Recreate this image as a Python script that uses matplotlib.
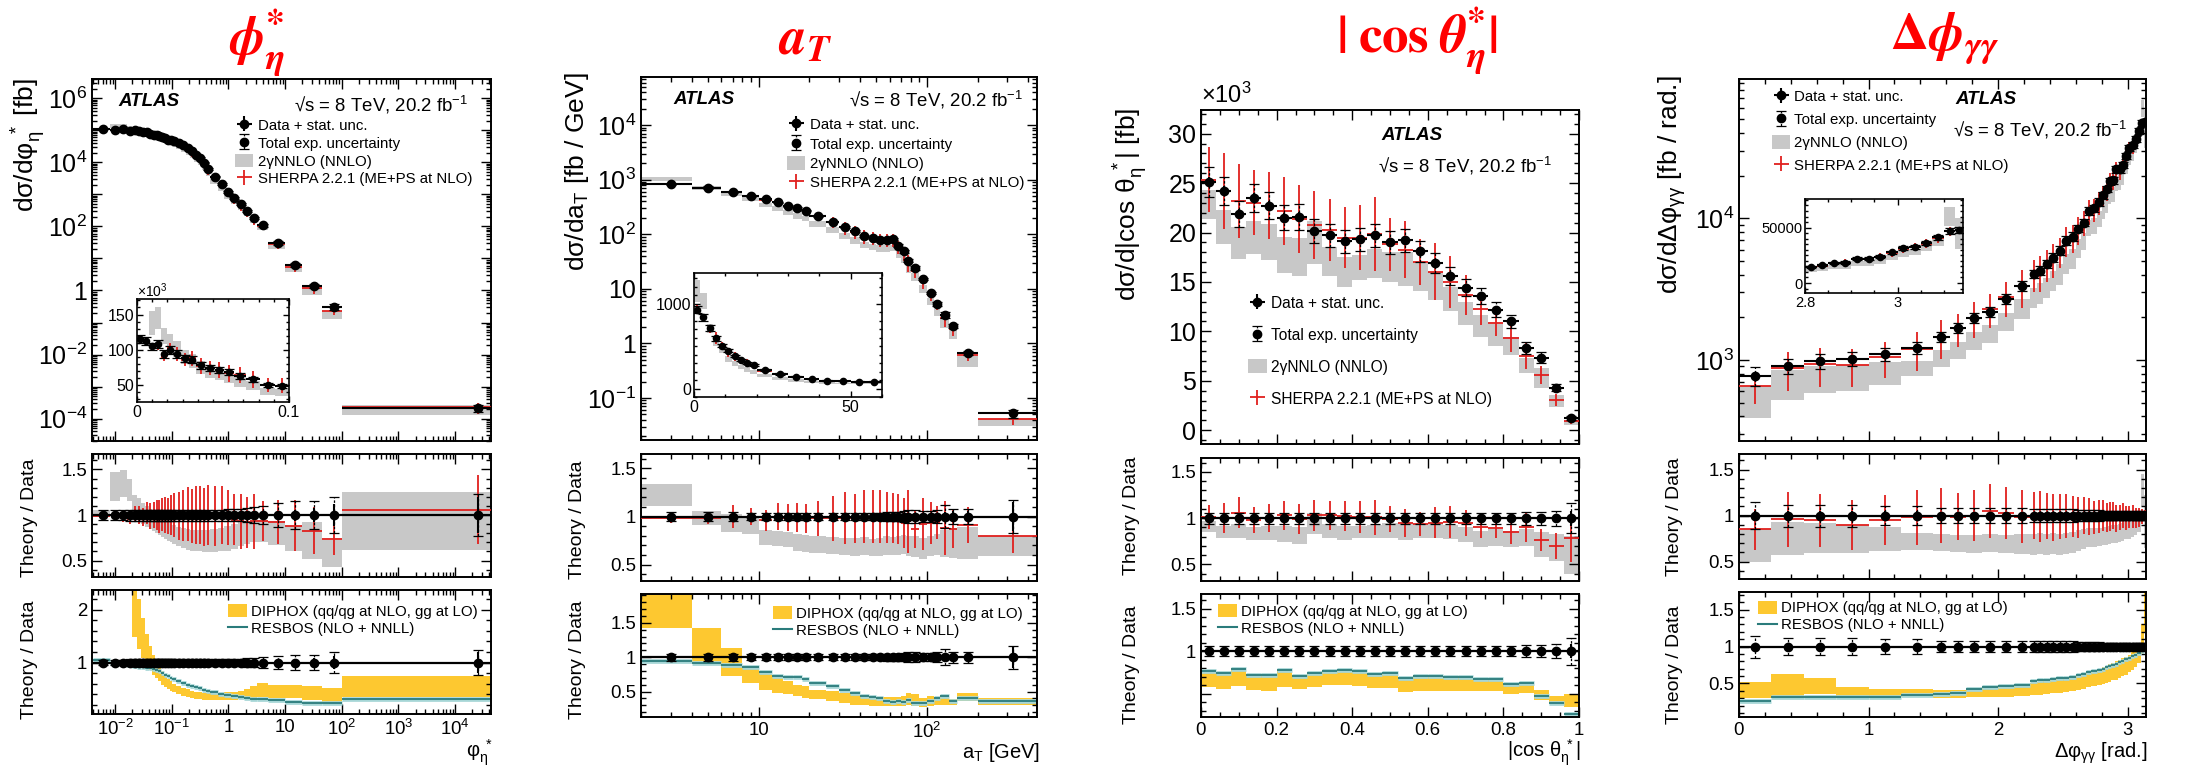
import numpy as np
import matplotlib
matplotlib.use('Agg')
import matplotlib.pyplot as plt
from matplotlib.patches import Patch
from matplotlib.lines import Line2D
from matplotlib.ticker import (FixedLocator, MultipleLocator, LogLocator,
                               FuncFormatter, NullFormatter)
from matplotlib.font_manager import FontProperties
from matplotlib.mathtext import MathTextParser

# ======================= DATA =======================
# ---- phi*_eta ----
PHI_EDGES = [0, 0.004, 0.008, 0.012, 0.016, 0.020, 0.024, 0.029, 0.034, 0.039, 0.045,
             0.051, 0.057, 0.064, 0.072, 0.081, 0.091, 0.1, 0.12, 0.145, 0.175, 0.21,
             0.25, 0.29, 0.34, 0.40, 0.48, 0.66, 0.85, 1.1, 1.45, 1.85, 2.4, 3.2, 5.0,
             10, 20, 45, 100, 50000]
PHI_DATA = [115e3, 112e3, 105e3, 108e3, 94e3, 100e3, 94e3, 88e3, 86e3, 78e3, 74e3, 71e3,
            68e3, 63e3, 58e3, 50e3, 49e3, 45e3, 40e3, 34e3, 28e3, 22e3, 17.5e3, 14e3,
            9.8e3, 6.2e3, 3.6e3, 2.15e3, 1.2e3, 770, 490, 310, 182, 108, 30, 6.3, 1.4,
            0.31, 2.1e-4]
PHI_STAT = [0.02, 0.02, 0.02, 0.02, 0.025, 0.025, 0.025, 0.025, 0.025, 0.025,
            0.025, 0.025, 0.025, 0.025, 0.025, 0.025, 0.025, 0.02, 0.02, 0.02,
            0.02, 0.02, 0.02, 0.02, 0.02, 0.02, 0.02, 0.02, 0.025, 0.025,
            0.025, 0.03, 0.03, 0.03, 0.04, 0.06, 0.08, 0.12, 0.2]
PHI_TOT = [0.05, 0.05, 0.05, 0.05, 0.06, 0.06, 0.06, 0.06, 0.06, 0.06,
           0.06, 0.06, 0.06, 0.06, 0.06, 0.06, 0.06, 0.06, 0.06, 0.06,
           0.06, 0.06, 0.06, 0.06, 0.06, 0.06, 0.06, 0.06, 0.07, 0.07,
           0.07, 0.08, 0.09, 0.10, 0.13, 0.15, 0.15, 0.20, 0.23]
PHI_SH = [1.00, 0.99, 1.00, 0.97, 0.96, 1.02, 1.00, 0.98, 1.02, 0.99,
          1.00, 1.00, 0.98, 1.01, 1.00, 0.99, 1.00, 1.00, 0.99, 1.00,
          1.01, 0.99, 1.00, 1.00, 0.98, 1.00, 0.99, 1.00, 0.97, 0.95,
          0.93, 0.92, 0.93, 0.935, 0.92, 0.88, 0.83, 0.74, 1.06]
PHI_SH_ERR = [0.05, 0.05, 0.05, 0.05, 0.06, 0.08, 0.10, 0.10, 0.12, 0.14,
              0.14, 0.16, 0.18, 0.18, 0.20, 0.20, 0.22, 0.24, 0.26, 0.28,
              0.30, 0.30, 0.32, 0.32, 0.32, 0.33, 0.33, 0.32, 0.30, 0.28,
              0.30, 0.28, 0.30, 0.22, 0.24, 0.28, 0.26, 0.18, 0.38]
PHI_NNLO_LO = [0.96, 0.98, 1.15, 1.20, 1.15, 1.00, 0.95, 0.90, 0.87, 0.85,
               0.82, 0.80, 0.78, 0.76, 0.74, 0.72, 0.70, 0.68, 0.66, 0.64,
               0.62, 0.61, 0.60, 0.60, 0.59, 0.59, 0.59, 0.60, 0.61, 0.63,
               0.66, 0.68, 0.70, 0.70, 0.67, 0.61, 0.52, 0.43, 0.62]
PHI_NNLO_HI = [1.04, 1.06, 1.47, 1.49, 1.40, 1.22, 1.19, 1.13, 1.10, 1.07,
               1.04, 1.01, 0.99, 0.97, 0.95, 0.93, 0.91, 0.89, 0.87, 0.86,
               0.85, 0.84, 0.84, 0.84, 0.84, 0.84, 0.85, 0.86, 0.88, 0.90,
               0.92, 0.93, 0.94, 0.95, 0.93, 0.88, 0.92, 0.73, 1.25]
PHI_DIP_LO = [3.0, 3.0, 3.0, 3.0, 3.0, 1.49, 1.25, 1.08, 0.95, 0.85,
              0.77, 0.70, 0.64, 0.58, 0.53, 0.49, 0.46, 0.43, 0.40, 0.37,
              0.35, 0.33, 0.31, 0.30, 0.29, 0.28, 0.28, 0.28, 0.29, 0.29,
              0.30, 0.30, 0.32, 0.34, 0.33, 0.32, 0.29, 0.25, 0.35]
PHI_DIP_HI = [5.0, 5.0, 5.0, 5.0, 5.0, 3.0, 2.2, 1.85, 1.55, 1.32,
              1.15, 1.02, 0.92, 0.83, 0.75, 0.69, 0.64, 0.60, 0.56, 0.52,
              0.49, 0.46, 0.44, 0.43, 0.42, 0.42, 0.42, 0.42, 0.43, 0.44,
              0.46, 0.50, 0.56, 0.61, 0.58, 0.57, 0.55, 0.52, 0.75]
PHI_RESBOS = [1.05, 1.04, 1.00, 0.97, 0.95, 0.93, 0.92, 0.91, 0.90, 0.89,
              0.87, 0.85, 0.83, 0.80, 0.77, 0.74, 0.71, 0.68, 0.65, 0.61,
              0.58, 0.55, 0.53, 0.51, 0.48, 0.46, 0.43, 0.40, 0.38, 0.36,
              0.34, 0.33, 0.31, 0.30, 0.28, 0.24, 0.22, 0.22, 0.30]

# ---- a_T ----
AT_EDGES = [0, 2, 4, 6, 8, 10, 12, 14, 16, 18, 20, 25, 30, 35, 40, 45, 50, 55, 60, 65,
            70, 75, 80, 90, 100, 110, 120, 135, 150, 200, 450]
AT_DATA = [929, 840, 715, 592, 505, 443, 382, 333, 302, 272, 216, 171, 136, 113, 93, 87,
           80, 80, 82, 62, 49, 33, 24, 15.2, 8.4, 5.3, 3.3, 2.07, 0.66, 0.052]
AT_STAT = [0.01, 0.01, 0.015, 0.015, 0.015, 0.015, 0.015, 0.015, 0.015, 0.015,
           0.015, 0.015, 0.015, 0.015, 0.015, 0.015, 0.015, 0.015, 0.015, 0.015,
           0.02, 0.02, 0.02, 0.02, 0.03, 0.04, 0.05, 0.06, 0.06, 0.15]
AT_TOT = [0.04, 0.05, 0.05, 0.05, 0.04, 0.04, 0.04, 0.04, 0.04, 0.04,
          0.04, 0.04, 0.04, 0.04, 0.04, 0.04, 0.04, 0.05, 0.05, 0.05,
          0.06, 0.07, 0.07, 0.06, 0.06, 0.07, 0.12, 0.08, 0.08, 0.17]
AT_SH = [1.0, 0.99, 0.98, 1.0, 1.0, 0.96, 1.0, 0.99, 0.99, 0.98, 0.98, 0.98, 0.98, 0.98,
         1.0, 1.0, 1.0, 0.99, 0.98, 0.97, 0.93, 0.95, 0.87, 0.92, 0.93, 0.94, 0.88, 0.87,
         0.91, 0.80]
AT_SH_ERR = [0.06, 0.06, 0.06, 0.12, 0.09, 0.11, 0.14, 0.14, 0.15, 0.15, 0.18, 0.23, 0.27,
             0.25, 0.28, 0.28, 0.28, 0.26, 0.26, 0.26, 0.26, 0.33, 0.2, 0.27, 0.22, 0.17,
             0.28, 0.2, 0.19, 0.18]
AT_NNLO_LO = [1.10, 1.11, 0.91, 0.84, 0.82, 0.70, 0.69, 0.68, 0.64, 0.63, 0.62, 0.61, 0.60,
              0.59, 0.60, 0.59, 0.59, 0.60, 0.60, 0.60, 0.61, 0.59, 0.58, 0.56, 0.59, 0.60,
              0.58, 0.57, 0.56, 0.59]
AT_NNLO_HI = [1.37, 1.34, 1.06, 1.03, 0.99, 0.86, 0.85, 0.84, 0.82, 0.81, 0.80, 0.79, 0.78,
              0.78, 0.79, 0.77, 0.78, 0.80, 0.79, 0.80, 0.81, 0.80, 0.80, 0.78, 0.80, 0.82,
              0.86, 0.88, 0.89, 0.80]
AT_DIP_LO = [1.6, 1.43, 0.92, 0.72, 0.63, 0.53, 0.48, 0.46, 0.43, 0.41, 0.39, 0.36, 0.34,
             0.31, 0.30, 0.29, 0.29, 0.29, 0.29, 0.29, 0.29, 0.30, 0.29, 0.27, 0.29, 0.30,
             0.31, 0.30, 0.36, 0.31]
AT_DIP_HI = [2.5, 2.1, 1.43, 1.13, 0.87, 0.80, 0.72, 0.65, 0.60, 0.58, 0.53, 0.51, 0.48,
             0.46, 0.43, 0.43, 0.42, 0.42, 0.42, 0.42, 0.43, 0.48, 0.46, 0.41, 0.43, 0.41,
             0.45, 0.39, 0.48, 0.41]
AT_RESBOS = [0.95, 0.94, 0.91, 0.89, 0.86, 0.78, 0.73, 0.71, 0.71, 0.68, 0.63, 0.58, 0.53,
             0.48, 0.43, 0.42, 0.40, 0.36, 0.35, 0.36, 0.35, 0.38, 0.33, 0.34, 0.36, 0.40,
             0.44, 0.36, 0.41, 0.36]

# ---- |cos theta*_eta| ----
COS_EDGES = [0, 0.04, 0.08, 0.12, 0.16, 0.20, 0.24, 0.28, 0.32, 0.36, 0.40, 0.44, 0.48,
             0.52, 0.56, 0.60, 0.64, 0.68, 0.72, 0.76, 0.80, 0.84, 0.88, 0.92, 0.96, 1.00]
COS_DATA = [25100, 24200, 21900, 23500, 22700, 21500, 21600, 20200, 19700, 19100, 19300,
            19700, 19000, 19200, 18100, 16900, 15600, 14400, 13600, 12200, 11000, 8300,
            7350, 4300, 1200]
COS_STAT = [0.02, 0.02, 0.02, 0.02, 0.02, 0.02, 0.02, 0.02, 0.02, 0.02, 0.02, 0.02, 0.02,
            0.02, 0.02, 0.02, 0.02, 0.02, 0.02, 0.02, 0.025, 0.03, 0.03, 0.04, 0.08]
COS_TOT = [0.06, 0.06, 0.06, 0.06, 0.06, 0.06, 0.06, 0.06, 0.06, 0.06, 0.06, 0.06, 0.06,
           0.06, 0.06, 0.06, 0.06, 0.06, 0.06, 0.06, 0.06, 0.07, 0.07, 0.08, 0.16]
COS_SH = [1.01, 1.00, 1.06, 0.98, 1.00, 1.03, 0.99, 1.03, 1.03, 1.02, 1.01, 1.01, 0.99,
          0.95, 0.94, 0.95, 0.96, 0.95, 0.90, 0.89, 0.85, 0.90, 0.76, 0.70, 0.78]
COS_SH_ERR = [0.13, 0.16, 0.17, 0.14, 0.15, 0.16, 0.16, 0.17, 0.16, 0.16, 0.17, 0.19, 0.14,
              0.15, 0.13, 0.17, 0.17, 0.14, 0.12, 0.11, 0.13, 0.16, 0.12, 0.14, 0.25]
COS_NNLO_LO = [0.85, 0.78, 0.79, 0.76, 0.76, 0.74, 0.72, 0.83, 0.79, 0.76, 0.79, 0.78, 0.79,
               0.76, 0.78, 0.78, 0.77, 0.74, 0.69, 0.70, 0.69, 0.70, 0.58, 0.54, 0.40]
COS_NNLO_HI = [0.97, 0.92, 0.94, 0.90, 0.92, 0.91, 0.90, 1.05, 0.94, 0.92, 0.92, 0.93, 0.95,
               0.94, 0.94, 0.95, 0.93, 0.90, 0.86, 0.88, 0.86, 0.88, 0.85, 0.83, 0.81]
COS_DIP_LO = [0.58, 0.56, 0.59, 0.55, 0.54, 0.58, 0.56, 0.58, 0.60, 0.60, 0.59, 0.57, 0.57,
              0.52, 0.53, 0.53, 0.54, 0.54, 0.54, 0.54, 0.50, 0.51, 0.43, 0.39, 0.35]
COS_DIP_HI = [0.77, 0.76, 0.80, 0.73, 0.73, 0.78, 0.72, 0.75, 0.78, 0.78, 0.77, 0.74, 0.74,
              0.70, 0.72, 0.72, 0.71, 0.71, 0.68, 0.68, 0.62, 0.64, 0.55, 0.48, 0.50]
COS_RESBOS = [0.77, 0.75, 0.79, 0.72, 0.72, 0.78, 0.71, 0.75, 0.77, 0.78, 0.77, 0.73, 0.74,
              0.69, 0.71, 0.71, 0.70, 0.70, 0.68, 0.68, 0.62, 0.63, 0.48, 0.39, 0.27]

# ---- Delta phi_gammagamma ----
DPHI_EDGES = [0, 0.25, 0.5, 0.75, 1.0, 1.25, 1.5, 1.625, 1.75, 1.875, 2.0, 2.125, 2.25,
              2.3, 2.35, 2.4, 2.45, 2.5, 2.55, 2.6, 2.64, 2.68, 2.72, 2.76, 2.8, 2.825,
              2.85, 2.875, 2.9, 2.925, 2.95, 2.975, 3.0, 3.025, 3.05, 3.075, 3.1, 3.125,
              3.1416]
DPHI_DATA = [774, 908, 984, 1022, 1096, 1222, 1462, 1692, 1991, 2194, 2693, 3347, 4050,
             4275, 4764, 5275, 5914, 6954, 7430, 8450, 9320, 11270, 11750, 13000, 14500,
             16100, 18200, 18500, 22100, 22100, 23900, 27600, 31500, 32700, 36400, 41200,
             47000, 47900]
DPHI_STAT = [0.05, 0.05, 0.05, 0.05, 0.05, 0.05, 0.04, 0.04, 0.04, 0.04, 0.04, 0.04,
             0.03, 0.03, 0.03, 0.03, 0.03, 0.03, 0.03, 0.03, 0.03, 0.03, 0.03, 0.03,
             0.02, 0.02, 0.02, 0.02, 0.02, 0.02, 0.02, 0.02, 0.02, 0.02, 0.02, 0.02,
             0.02, 0.02]
DPHI_TOT = [0.15, 0.12, 0.12, 0.12, 0.10, 0.10, 0.08, 0.08, 0.08, 0.08, 0.08, 0.08,
            0.07, 0.07, 0.07, 0.07, 0.07, 0.07, 0.07, 0.06, 0.06, 0.06, 0.06, 0.06,
            0.05, 0.05, 0.05, 0.05, 0.05, 0.05, 0.05, 0.05, 0.05, 0.05, 0.05, 0.05,
            0.05, 0.05]
DPHI_SH = [0.85, 0.96, 0.95, 0.90, 0.95, 0.98, 1.00, 0.99, 1.00, 1.05, 1.03, 0.99,
           1.00, 0.99, 1.00, 0.98, 0.99, 1.00, 0.99, 0.98, 1.00, 0.99, 0.98, 0.99,
           1.00, 0.98, 0.99, 1.00, 0.97, 0.98, 1.00, 0.97, 0.98, 0.99, 0.97, 0.98,
           0.99, 1.00]
DPHI_SH_ERR = [0.22, 0.30, 0.29, 0.27, 0.27, 0.30, 0.30, 0.26, 0.28, 0.29, 0.28, 0.29,
               0.26, 0.28, 0.25, 0.26, 0.24, 0.24, 0.22, 0.22, 0.20, 0.20, 0.18, 0.18,
               0.17, 0.16, 0.16, 0.15, 0.15, 0.14, 0.14, 0.13, 0.12, 0.12, 0.11, 0.10,
               0.08, 0.06]
DPHI_NNLO_LO = [0.50, 0.57, 0.59, 0.59, 0.61, 0.63, 0.61, 0.60, 0.59, 0.60, 0.59, 0.58,
                0.57, 0.58, 0.57, 0.58, 0.57, 0.58, 0.59, 0.62, 0.64, 0.66, 0.66, 0.67,
                0.68, 0.68, 0.69, 0.70, 0.70, 0.71, 0.72, 0.74, 0.75, 0.77, 0.79, 0.82,
                1.10, 0.65]
DPHI_NNLO_HI = [0.85, 0.93, 0.92, 0.90, 0.88, 0.81, 0.80, 0.79, 0.79, 0.80, 0.79, 0.80,
                0.80, 0.81, 0.80, 0.81, 0.80, 0.81, 0.82, 0.84, 0.85, 0.86, 0.86, 0.87,
                0.88, 0.88, 0.89, 0.90, 0.90, 0.91, 0.92, 0.93, 0.94, 0.95, 0.97, 1.00,
                1.45, 1.22]
DPHI_DIP_LO = [0.30, 0.32, 0.36, 0.32, 0.30, 0.32, 0.30, 0.30, 0.31, 0.32, 0.32, 0.33,
               0.34, 0.35, 0.36, 0.37, 0.37, 0.38, 0.40, 0.41, 0.43, 0.45, 0.46, 0.48,
               0.49, 0.50, 0.52, 0.54, 0.55, 0.57, 0.60, 0.62, 0.65, 0.68, 0.72, 0.78,
               0.90, 1.20]
DPHI_DIP_HI = [0.52, 0.63, 0.57, 0.45, 0.43, 0.43, 0.41, 0.41, 0.42, 0.45, 0.46, 0.48,
               0.50, 0.52, 0.53, 0.55, 0.56, 0.57, 0.58, 0.61, 0.63, 0.66, 0.68, 0.70,
               0.72, 0.74, 0.76, 0.78, 0.80, 0.82, 0.84, 0.86, 0.88, 0.92, 0.98, 1.05,
               1.30, 2.00]
DPHI_RESBOS = [0.26, 0.32, 0.32, 0.32, 0.32, 0.34, 0.36, 0.37, 0.42, 0.45, 0.46, 0.48,
               0.53, 0.54, 0.55, 0.56, 0.57, 0.58, 0.59, 0.61, 0.63, 0.65, 0.67, 0.68,
               0.70, 0.72, 0.73, 0.75, 0.77, 0.79, 0.81, 0.83, 0.85, 0.87, 0.89, 0.91,
               0.94, 0.97]

TITLES_BF = [r'$\mathbfit{\phi}^{\mathbf{*}}_{\mathbfit{\eta}}$',
             r'$\mathbfit{a}_{\mathbfit{T}}$',
             r'$\mathbf{|\;cos\;}\mathbfit{\theta}^{\mathbf{*}}_{\mathbfit{\eta}}\mathbf{|}$',
             r'$\mathbf{\Delta}\mathbfit{\phi}_{\mathbfit{\gamma\gamma}}$']
TITLES_PLAIN = [r'$\phi^{*}_{\eta}$', r'$a_{T}$', r'$|\;\mathrm{cos}\;\theta^{*}_{\eta}|$',
                r'$\Delta\phi_{\gamma\gamma}$']
LEG_MAIN = ['Data + stat. unc.', 'Total exp. uncertainty', '2γNNLO (NNLO)',
            'SHERPA 2.2.1 (ME+PS at NLO)']
LEG_R2 = ['DIPHOX (qq/qg at NLO, gg at LO)', 'RESBOS (NLO + NNLL)']

# ======================= STYLE =======================
plt.rcParams['font.family'] = ['Liberation Sans', 'DejaVu Sans']
plt.rcParams['mathtext.fontset'] = 'custom'
plt.rcParams['mathtext.rm'] = 'Liberation Sans'
plt.rcParams['mathtext.it'] = 'Liberation Sans'
plt.rcParams['mathtext.bf'] = 'Liberation Sans:bold'

GREY = '#c8c8c8'
RED = '#e0201e'
YEL = '#fdc830'
TEAL = '#2a7b7b'
TEAL_L = '#a6d6d6'

W, H = 2192, 771
fig = plt.figure(figsize=(W / 100, H / 100), dpi=100)


def rect(x0, y0, x1, y1):
    return [x0 / W, 1 - y1 / H, (x1 - x0) / W, (y1 - y0) / H]


def fx(x):
    return x / W


def fy(y):
    return 1 - y / H


def new_ax(box, logx=False, logy=False, small=False):
    ax = fig.add_axes(rect(*box))
    if logx:
        ax.set_xscale('log')
    if logy:
        ax.set_yscale('log')
    ax.tick_params(which='both', direction='in', top=True, right=True, width=1.0)
    ax.tick_params(which='major', length=4.5 if small else 7.5)
    ax.tick_params(which='minor', length=2.5 if small else 3.8)
    for s in ax.spines.values():
        s.set_linewidth(1.2 if small else 1.4)
    return ax


def bins(edges):
    e = np.asarray(edges, float)
    return e[:-1], e[1:], 0.5 * (e[:-1] + e[1:]), 0.5 * (e[1:] - e[:-1])


def draw_data(ax, x, y, xe, se, te, ms=6):
    eb = ax.errorbar(x, y, yerr=te, fmt='none', ecolor='k', elinewidth=0.9,
                     capsize=3.5, capthick=0.9, zorder=4)
    for c in eb[2]:
        c.set_linestyle((0, (2.0, 1.5)))
    ax.errorbar(x, y, xerr=xe, yerr=se, fmt='o', color='k', ms=ms, elinewidth=1.5,
                zorder=5)


def draw_main(ax, edges, data, stat, tot, sh, she, nlo, nhi, logx, ms=6):
    lo, hi, c, hw = bins(edges)
    d = np.asarray(data, float)
    m = lo > 0 if logx else np.ones(len(d), bool)
    nl, nh = np.asarray(nlo), np.asarray(nhi)
    s, se = np.asarray(sh), np.asarray(she)
    ax.bar(lo[m], (d * (nh - nl))[m], width=(hi - lo)[m], bottom=(d * nl)[m],
           align='edge', color=GREY, lw=0, zorder=1)
    ax.errorbar(c[m], (d * s)[m], xerr=hw[m], yerr=(d * se)[m], fmt='none',
                ecolor=RED, elinewidth=1.3, zorder=3)
    draw_data(ax, c[m], d[m], hw[m], (d * np.asarray(stat))[m],
              (d * np.asarray(tot))[m], ms)


def draw_r1(ax, edges, stat, tot, sh, she, nlo, nhi, logx):
    lo, hi, c, hw = bins(edges)
    m = lo > 0 if logx else np.ones(len(lo), bool)
    nl, nh = np.asarray(nlo), np.asarray(nhi)
    ax.bar(lo[m], (nh - nl)[m], width=(hi - lo)[m], bottom=nl[m], align='edge',
           color=GREY, lw=0, zorder=1)
    ax.errorbar(c[m], np.asarray(sh)[m], xerr=hw[m], yerr=np.asarray(she)[m],
                fmt='none', ecolor=RED, elinewidth=1.3, zorder=3)
    ax.axhline(1, color='k', lw=1.6, zorder=3.5)
    one = np.ones(len(lo))
    draw_data(ax, c[m], one[m], None, np.asarray(stat)[m], np.asarray(tot)[m])


def draw_r2(ax, edges, stat, tot, dlo, dhi, rb, logx):
    lo, hi, c, hw = bins(edges)
    m = lo > 0 if logx else np.ones(len(lo), bool)
    dl, dh, r = np.asarray(dlo), np.asarray(dhi), np.asarray(rb)
    ax.bar(lo[m], (dh - dl)[m], width=(hi - lo)[m], bottom=dl[m], align='edge',
           color=YEL, lw=0, zorder=1)
    ax.hlines(r[m], lo[m], hi[m], colors=TEAL_L, lw=3.4, zorder=2)
    ax.hlines(r[m], lo[m], hi[m], colors=TEAL, lw=1.3, zorder=2.5)
    ax.axhline(1, color='k', lw=1.6, zorder=3.5)
    one = np.ones(len(lo))
    draw_data(ax, c[m], one[m], None, np.asarray(stat)[m], np.asarray(tot)[m])


def main_legend(ax, x, y, spacing, fs=10.8):
    h1 = ax.errorbar([np.nan], [np.nan], xerr=[1], yerr=[1], fmt='o', color='k', ms=6,
                     elinewidth=1.5)
    h2 = ax.errorbar([np.nan], [np.nan], yerr=[1], fmt='o', color='k', ms=6,
                     elinewidth=0.9, capsize=3.5, capthick=0.9)
    for c in h2[2]:
        c.set_linestyle((0, (2.0, 1.5)))
    h3 = Patch(facecolor=GREY, edgecolor='none')
    h4 = ax.errorbar([np.nan], [np.nan], xerr=[1], yerr=[1], fmt='none', ecolor=RED,
                     elinewidth=1.3)
    ax.legend([h1, h2, h3, h4], LEG_MAIN, loc='upper left',
              bbox_to_anchor=(fx(x), fy(y)), bbox_transform=fig.transFigure,
              frameon=False, fontsize=fs, handlelength=1.2, handleheight=1.0,
              handletextpad=0.3, labelspacing=spacing, borderpad=0, borderaxespad=0)


def r2_legend(ax, x, y, fs=10.8):
    h1 = Patch(facecolor=YEL, edgecolor='none')
    h2 = Line2D([], [], color=TEAL, lw=1.5)
    ax.legend([h1, h2], LEG_R2, loc='upper left', bbox_to_anchor=(fx(x), fy(y)),
              bbox_transform=fig.transFigure, frameon=False, fontsize=fs,
              handlelength=1.25, handleheight=1.0, handletextpad=0.3,
              labelspacing=0.15, borderpad=0, borderaxespad=0)


def pow10(v, only_even=False):
    if v <= 0:
        return ''
    e = int(np.round(np.log10(v)))
    if abs(v - 10.0 ** e) > 1e-6 * 10.0 ** e:
        return ''
    if only_even and e % 2 != 0:
        return ''
    if e == 0:
        return '1'
    if e == 1:
        return '10'
    return r'$10^{%d}$' % e


def gfmt(hide=()):
    def f(v, p):
        for h in hide:
            if abs(v - h) < 1e-9:
                return ''
        return '%g' % round(v, 6)
    return FuncFormatter(f)


def ratio_yaxis(ax, ylim, major=(0.5, 1, 1.5), minor=0.1, hide=()):
    ax.set_ylim(*ylim)
    ax.yaxis.set_major_locator(FixedLocator(list(major)))
    ax.yaxis.set_minor_locator(MultipleLocator(minor))
    ax.yaxis.set_major_formatter(gfmt(hide))
    ax.tick_params(axis='y', labelsize=13.4)


def log_x(ax, majors=None):
    if majors is None:
        ax.xaxis.set_major_locator(LogLocator(base=10, numticks=30))
    else:
        ax.xaxis.set_major_locator(FixedLocator(majors))
    ax.xaxis.set_minor_locator(LogLocator(base=10, subs=np.arange(2, 10), numticks=30))
    ax.xaxis.set_minor_formatter(NullFormatter())


def mt_ok(s, fam):
    try:
        MathTextParser('path').parse(s, prop=FontProperties(math_fontfamily=fam))
        return True
    except Exception:
        return False


TLS = 18   # main tick labels
RLS = 13.4  # ratio tick labels
YLS = 19   # main y title
RTS = 14   # ratio y title
XTS = 14.5  # x titles

# ======================= COLUMN 1: phi* =======================
ax = new_ax((92, 79, 491, 441), True, True)
draw_main(ax, PHI_EDGES, PHI_DATA, PHI_STAT, PHI_TOT, PHI_SH, PHI_SH_ERR,
          PHI_NNLO_LO, PHI_NNLO_HI, True)
log_x(ax)
ax.xaxis.set_major_formatter(NullFormatter())
ax.yaxis.set_major_locator(LogLocator(base=10, numticks=30))
ax.yaxis.set_minor_locator(LogLocator(base=10, subs=np.arange(2, 10), numticks=30))
ax.yaxis.set_major_formatter(FuncFormatter(lambda v, p: pow10(v, True)))
ax.yaxis.set_minor_formatter(NullFormatter())
ax.tick_params(axis='y', labelsize=TLS)
main_legend(ax, 235, 118, 0.2)
ax.set_xlim(3.9e-3, 4.3e4)
ax.set_ylim(2e-5, 4e6)

axi = new_ax((137, 299, 289, 402), small=True)
draw_main(axi, PHI_EDGES, PHI_DATA, PHI_STAT, PHI_TOT, PHI_SH, PHI_SH_ERR,
          PHI_NNLO_LO, PHI_NNLO_HI, False, ms=4.5)
axi.set_xlim(0, 0.1)
axi.set_ylim(26e3, 172e3)
axi.xaxis.set_major_locator(FixedLocator([0, 0.1]))
axi.xaxis.set_major_formatter(gfmt())
axi.xaxis.set_minor_locator(MultipleLocator(0.01))
axi.yaxis.set_major_locator(FixedLocator([50e3, 100e3, 150e3]))
axi.yaxis.set_major_formatter(FuncFormatter(lambda v, p: '%g' % (v / 1000)))
axi.yaxis.set_minor_locator(MultipleLocator(10e3))
axi.tick_params(labelsize=11.5, pad=2)
fig.text(fx(137), fy(291), r'×10$^{3}$', fontsize=10, ha='left', va='center')

ax = new_ax((92, 454, 491, 577), True)
draw_r1(ax, PHI_EDGES, PHI_STAT, PHI_TOT, PHI_SH, PHI_SH_ERR, PHI_NNLO_LO,
        PHI_NNLO_HI, True)
log_x(ax)
ax.xaxis.set_major_formatter(NullFormatter())
ax.set_xlim(3.9e-3, 4.3e4)
ratio_yaxis(ax, (0.32, 1.67))

ax = new_ax((92, 590, 491, 714), True)
draw_r2(ax, PHI_EDGES, PHI_STAT, PHI_TOT, PHI_DIP_LO, PHI_DIP_HI, PHI_RESBOS, True)
log_x(ax)
ax.xaxis.set_major_formatter(FuncFormatter(lambda v, p: pow10(v)))
ax.tick_params(axis='x', labelsize=RLS)
ax.set_xlim(3.9e-3, 4.3e4)
ratio_yaxis(ax, (0.02, 2.38), major=(1, 2), minor=0.2)
r2_legend(ax, 228, 604)

# ======================= COLUMN 2: a_T =======================
ax = new_ax((641, 77, 1037, 440), True, True)
draw_main(ax, AT_EDGES, AT_DATA, AT_STAT, AT_TOT, AT_SH, AT_SH_ERR, AT_NNLO_LO,
          AT_NNLO_HI, True)
log_x(ax, [10, 100])
ax.xaxis.set_major_formatter(NullFormatter())
ax.yaxis.set_major_locator(LogLocator(base=10, numticks=30))
ax.yaxis.set_minor_locator(LogLocator(base=10, subs=np.arange(2, 10), numticks=30))
ax.yaxis.set_major_formatter(FuncFormatter(lambda v, p: pow10(v)))
ax.yaxis.set_minor_formatter(NullFormatter())
ax.tick_params(axis='y', labelsize=TLS)
main_legend(ax, 787, 117.5, 0.3)
ax.set_xlim(2, 450)
ax.set_ylim(0.017, 7.6e4)

axi = new_ax((694, 273, 882, 397), small=True)
draw_main(axi, AT_EDGES, AT_DATA, AT_STAT, AT_TOT, AT_SH, AT_SH_ERR, AT_NNLO_LO,
          AT_NNLO_HI, False, ms=4.5)
axi.set_xlim(0, 60)
axi.set_ylim(-100, 1360)
axi.xaxis.set_major_locator(FixedLocator([0, 50]))
axi.xaxis.set_minor_locator(MultipleLocator(10))
axi.yaxis.set_major_locator(FixedLocator([0, 1000]))
axi.yaxis.set_minor_locator(MultipleLocator(100))
axi.xaxis.set_major_formatter(gfmt())
axi.yaxis.set_major_formatter(gfmt())
axi.tick_params(labelsize=11.5, pad=2)

ax = new_ax((641, 454, 1037, 581), True)
draw_r1(ax, AT_EDGES, AT_STAT, AT_TOT, AT_SH, AT_SH_ERR, AT_NNLO_LO, AT_NNLO_HI, True)
log_x(ax, [10, 100])
ax.xaxis.set_major_formatter(NullFormatter())
ax.set_xlim(2, 450)
ratio_yaxis(ax, (0.33, 1.65))

ax = new_ax((641, 594, 1037, 717), True)
draw_r2(ax, AT_EDGES, AT_STAT, AT_TOT, AT_DIP_LO, AT_DIP_HI, AT_RESBOS, True)
log_x(ax, [10, 100])
ax.xaxis.set_major_formatter(FuncFormatter(lambda v, p: pow10(v)))
ax.tick_params(axis='x', labelsize=RLS)
ax.set_xlim(2, 450)
ratio_yaxis(ax, (0.13, 1.92))
r2_legend(ax, 773, 606)

# ======================= COLUMN 3: |cos theta*| =======================
ax = new_ax((1201, 110, 1579, 444))
draw_main(ax, COS_EDGES, COS_DATA, COS_STAT, COS_TOT, COS_SH, COS_SH_ERR, COS_NNLO_LO,
          COS_NNLO_HI, False)
ax.xaxis.set_major_locator(MultipleLocator(0.2))
ax.xaxis.set_minor_locator(MultipleLocator(0.05))
ax.xaxis.set_major_formatter(NullFormatter())
ax.yaxis.set_major_locator(MultipleLocator(5000))
ax.yaxis.set_minor_locator(MultipleLocator(1000))
ax.yaxis.set_major_formatter(FuncFormatter(lambda v, p: '%g' % (v / 1000)))
ax.tick_params(axis='y', labelsize=TLS)
main_legend(ax, 1248, 295.5, 1.07, fs=11.2)
ax.set_xlim(0, 1)
ax.set_ylim(-1400, 32400)
fig.text(fx(1201), fy(95), r'×10$^{3}$', fontsize=17, ha='left', va='center')

ax = new_ax((1201, 458, 1579, 581))
draw_r1(ax, COS_EDGES, COS_STAT, COS_TOT, COS_SH, COS_SH_ERR, COS_NNLO_LO, COS_NNLO_HI,
        False)
ax.xaxis.set_major_locator(MultipleLocator(0.2))
ax.xaxis.set_minor_locator(MultipleLocator(0.05))
ax.xaxis.set_major_formatter(NullFormatter())
ax.set_xlim(0, 1)
ratio_yaxis(ax, (0.32, 1.65))

ax = new_ax((1201, 594, 1579, 717))
draw_r2(ax, COS_EDGES, COS_STAT, COS_TOT, COS_DIP_LO, COS_DIP_HI, COS_RESBOS, False)
ax.xaxis.set_major_locator(MultipleLocator(0.2))
ax.xaxis.set_minor_locator(MultipleLocator(0.05))
ax.xaxis.set_major_formatter(gfmt())
ax.tick_params(axis='x', labelsize=RLS)
ax.set_xlim(0, 1)
ratio_yaxis(ax, (0.23, 1.67), hide=(0.5,))
r2_legend(ax, 1218, 604)

# ======================= COLUMN 4: Delta phi =======================
ax = new_ax((1739, 79, 2146, 441), False, True)
draw_main(ax, DPHI_EDGES, DPHI_DATA, DPHI_STAT, DPHI_TOT, DPHI_SH, DPHI_SH_ERR,
          DPHI_NNLO_LO, DPHI_NNLO_HI, False)
ax.xaxis.set_major_locator(MultipleLocator(1))
ax.xaxis.set_minor_locator(MultipleLocator(0.2))
ax.xaxis.set_major_formatter(NullFormatter())
ax.yaxis.set_major_locator(FixedLocator([1e3, 1e4]))
ax.yaxis.set_minor_locator(LogLocator(base=10, subs=np.arange(2, 10), numticks=30))
ax.yaxis.set_major_formatter(FuncFormatter(lambda v, p: pow10(v)))
ax.yaxis.set_minor_formatter(NullFormatter())
ax.tick_params(axis='y', labelsize=TLS)
main_legend(ax, 1772, 89.5, 0.53)
ax.set_xlim(0, 3.1416)
ax.set_ylim(268, 9.6e4)

axi = new_ax((1805, 199, 1963, 293), small=True)
draw_main(axi, DPHI_EDGES, DPHI_DATA, DPHI_STAT, DPHI_TOT, DPHI_SH, DPHI_SH_ERR,
          DPHI_NNLO_LO, DPHI_NNLO_HI, False, ms=4.5)
axi.set_xlim(2.8, 3.1416)
axi.set_ylim(-9e3, 75.8e3)
axi.xaxis.set_major_locator(FixedLocator([2.8, 3.0]))
axi.xaxis.set_minor_locator(MultipleLocator(0.05))
axi.yaxis.set_major_locator(FixedLocator([0, 50000]))
axi.yaxis.set_minor_locator(MultipleLocator(5000))
axi.xaxis.set_major_formatter(gfmt())
axi.yaxis.set_major_formatter(gfmt())
axi.tick_params(labelsize=10.5, pad=2)

ax = new_ax((1739, 454, 2146, 579))
draw_r1(ax, DPHI_EDGES, DPHI_STAT, DPHI_TOT, DPHI_SH, DPHI_SH_ERR, DPHI_NNLO_LO,
        DPHI_NNLO_HI, False)
ax.xaxis.set_major_locator(MultipleLocator(1))
ax.xaxis.set_minor_locator(MultipleLocator(0.2))
ax.xaxis.set_major_formatter(NullFormatter())
ax.set_xlim(0, 3.1416)
ratio_yaxis(ax, (0.31, 1.67))

ax = new_ax((1739, 592, 2146, 717))
draw_r2(ax, DPHI_EDGES, DPHI_STAT, DPHI_TOT, DPHI_DIP_LO, DPHI_DIP_HI, DPHI_RESBOS,
        False)
ax.xaxis.set_major_locator(MultipleLocator(1))
ax.xaxis.set_minor_locator(MultipleLocator(0.2))
ax.xaxis.set_major_formatter(gfmt())
ax.tick_params(axis='x', labelsize=RLS)
ax.set_xlim(0, 3.1416)
ratio_yaxis(ax, (0.045, 1.74))
r2_legend(ax, 1758, 600.5)

# ======================= TEXTS =======================
use_bf = all(mt_ok(t, 'stix') for t in TITLES_BF)
titles = TITLES_BF if use_bf else TITLES_PLAIN
for t, (x, y) in zip(titles, [(257, 43), (805, 41), (1417, 40), (1945, 38)]):
    fig.text(fx(x), fy(y), t, color='red', fontsize=38, ha='center', va='center',
             math_fontfamily='stix')

atlas_kw = dict(fontsize=13.5, fontweight='bold', fontstyle='italic', va='center')
sq = r'√s = 8 TeV, 20.2 fb$^{-1}$'
fig.text(fx(118), fy(102), 'ATLAS', ha='left', **atlas_kw)
fig.text(fx(468), fy(105), sq, fontsize=13.4, ha='right', va='center')
fig.text(fx(673), fy(99), 'ATLAS', ha='left', **atlas_kw)
fig.text(fx(1023), fy(100), sq, fontsize=13.4, ha='right', va='center')
fig.text(fx(1412), fy(135), 'ATLAS', ha='center', **atlas_kw)
fig.text(fx(1465), fy(166), sq, fontsize=13.4, ha='center', va='center')
fig.text(fx(1955), fy(100), 'ATLAS', ha='left', **atlas_kw)
fig.text(fx(1953), fy(130), sq, fontsize=13.4, ha='left', va='center')

# y titles
ylab = [(29, r'dσ/dφ$_{\eta}^{\ *}$ [fb]'), (577, r'dσ/da$_{\mathrm{T}}$ [fb / GeV]'),
        (1131, r'dσ/d|cos θ$_{\eta}^{\ *}$| [fb]'),
        (1672, r'dσ/dΔφ$_{\gamma\gamma}$ [fb / rad.]')]
ytop = [78, 72, 108, 75]
for (x, s), yt in zip(ylab, ytop):
    fig.text(fx(x), fy(yt), s, rotation=90, fontsize=YLS, ha='center', va='top')
for x, y1, y2 in [(30, 518, 660), (578, 520, 660), (1131, 516, 665), (1674, 517, 665)]:
    fig.text(fx(x), fy(y1), 'Theory / Data', rotation=90, fontsize=RTS, ha='center',
             va='center')
    fig.text(fx(x), fy(y2), 'Theory / Data', rotation=90, fontsize=RTS, ha='center',
             va='center')

# x titles
for x, s in [(493, r'φ$_{\eta}^{\ *}$'), (1040, r'a$_{\mathrm{T}}$ [GeV]'),
             (1581, r'|cos θ$_{\eta}^{\ *}$|'), (2147, r'Δφ$_{\gamma\gamma}$ [rad.]')]:
    fig.text(fx(x), fy(753), s, fontsize=XTS, ha='right', va='center')

fig.savefig('out.png', dpi=100)
